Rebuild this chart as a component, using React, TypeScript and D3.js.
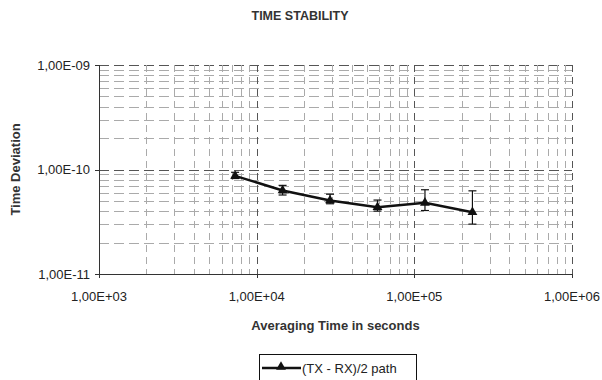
import React from 'react';
import * as d3 from 'd3';

const title = 'TIME STABILITY';
const seriesName = '(TX - RX)/2 path';
const tau = [7300, 14600, 29200, 58400, 116800, 233600];
const tdev = [8.7e-11, 6.3e-11, 5.05e-11, 4.35e-11, 4.8e-11, 3.9e-11];
const errHigh = [9.4e-11, 7.05e-11, 5.8e-11, 5.1e-11, 6.4e-11, 6.25e-11];
const errLow = [8.2e-11, 5.7e-11, 4.7e-11, 4.0e-11, 4.05e-11, 3.0e-11];
const xTicks = [1e3, 1e4, 1e5, 1e6];
const yTicks = [1e-11, 1e-10, 1e-9];

const fmt = (v: number) => {
  const e = Math.round(Math.log10(v));
  const sign = e < 0 ? '-' : '+';
  return `1,00E${sign}${String(Math.abs(e)).padStart(2, '0')}`;
};

const W = 602;
const H = 380;
const margin = { top: 65, right: 30, bottom: 106, left: 99 };

const App = () => {
  const x = d3.scaleLog().domain([1e3, 1e6]).range([margin.left, W - margin.right]);
  const y = d3.scaleLog().domain([1e-11, 1e-9]).range([H - margin.bottom, margin.top]);

  // minor + major grid values
  const xGrid: number[] = [];
  for (let d = 1e3; d < 1e6; d *= 10) for (let k = 2; k <= 10; k++) xGrid.push(d * k);
  const yGrid: number[] = [];
  for (let d = 1e-11; d < 1e-9 * 0.99; d *= 10) for (let k = 2; k <= 10; k++) yGrid.push(d * k);
  const isMajor = (v: number) => Math.abs(Math.log10(v) - Math.round(Math.log10(v))) < 1e-6;

  const line = d3.line<number>().x((_, i) => x(tau[i])).y(d => y(d));
  const tri = d3.symbol().type(d3.symbolTriangle).size(42)();

  const [x0, x1] = x.range();
  const [y0, y1] = y.range();
  const font = 'Arial, "Liberation Sans", Helvetica, sans-serif';

  return (
    <svg width={W} height={H} style={{ position: 'absolute', left: 0, top: 0 }} fontFamily={font}>
      <rect width={W} height={H} fill="#fff" />
      <text x={300} y={20} textAnchor="middle" fontSize={12.5} fontWeight="bold" fill="#333">{title}</text>

      {/* horizontal gridlines */}
      {yGrid.map((v, i) => (
        <line key={'h' + i} x1={x0} x2={x1} y1={Math.round(y(v)) + 0.5} y2={Math.round(y(v)) + 0.5}
          stroke={isMajor(v) ? '#555' : '#aaa'} strokeWidth={1} strokeDasharray="10,5" />
      ))}
      {/* vertical gridlines */}
      {xGrid.map((v, i) => (
        <line key={'v' + i} y1={y1} y2={y0} x1={Math.round(x(v)) + 0.5} x2={Math.round(x(v)) + 0.5}
          stroke={isMajor(v) ? '#555' : '#aaa'} strokeWidth={1} strokeDasharray="7,5" />
      ))}

      {/* axes */}
      <line x1={x0} x2={x1} y1={y0 + 0.5} y2={y0 + 0.5} stroke="#333" />
      <line x1={x0 + 0.5} x2={x0 + 0.5} y1={y1} y2={y0} stroke="#333" />
      {yTicks.map((v, i) => (
        <g key={'yt' + i}>
          <line x1={x0 - 4} x2={x0} y1={Math.round(y(v)) + 0.5} y2={Math.round(y(v)) + 0.5} stroke="#333" />
          <text x={x0 - 9} y={y(v)} dy="0.35em" textAnchor="end" fontSize={13} fill="#222">{fmt(v)}</text>
        </g>
      ))}
      {xTicks.map((v, i) => (
        <g key={'xt' + i}>
          <line x1={Math.round(x(v)) + 0.5} x2={Math.round(x(v)) + 0.5} y1={y0} y2={y0 + 4} stroke="#333" />
          <text x={x(v)} y={y0 + 27} textAnchor="middle" fontSize={13} fill="#222">{fmt(v)}</text>
        </g>
      ))}

      <text x={(x0 + x1) / 2} y={330} textAnchor="middle" fontSize={13} fontWeight="bold" fill="#333">
        Averaging Time in seconds
      </text>
      <text transform={`translate(20,${(y0 + y1) / 2}) rotate(-90)`} textAnchor="middle" fontSize={13}
        fontWeight="bold" fill="#333">Time Deviation</text>

      {/* error bars */}
      {tau.map((t, i) => (
        <g key={'e' + i} stroke="#111" strokeWidth={1.2}>
          <line x1={x(t)} x2={x(t)} y1={y(errHigh[i])} y2={y(errLow[i])} />
          <line x1={x(t) - 4} x2={x(t) + 4} y1={y(errHigh[i])} y2={y(errHigh[i])} />
          <line x1={x(t) - 4} x2={x(t) + 4} y1={y(errLow[i])} y2={y(errLow[i])} />
        </g>
      ))}
      <path d={line(tdev) || ''} fill="none" stroke="#111" strokeWidth={2.5} />
      {tdev.map((v, i) => (
        <path key={'m' + i} d={tri || ''} transform={`translate(${x(tau[i])},${y(v)})`} fill="#111" />
      ))}

      {/* legend */}
      <rect x={259.5} y={354.5} width={157} height={30} fill="#fff" stroke="#111" />
      <line x1={262} x2={301} y1={368} y2={368} stroke="#111" strokeWidth={2.5} />
      <path d={tri || ''} transform="translate(281,367)" fill="#111" />
      <text x={302} y={372.5} fontSize={13} fill="#222">{seriesName}</text>
    </svg>
  );
};

export default App;
